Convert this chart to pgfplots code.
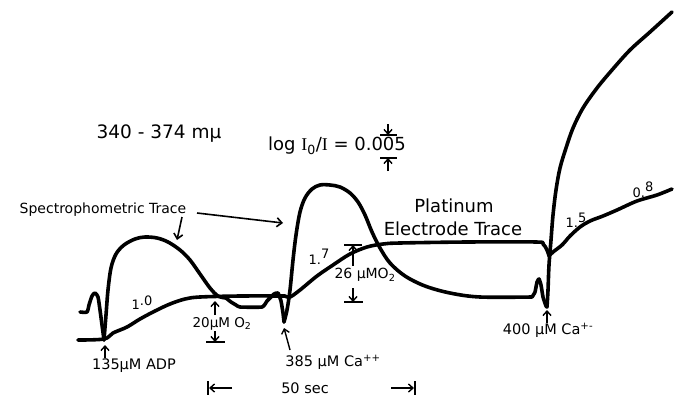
\documentclass[border=0pt]{standalone}
\usepackage{pgfplots}
\pgfplotsset{compat=1.18}
\usepackage{fontspec}
\setmainfont{DejaVu Sans}
\newfontfamily\seriffont{Liberation Serif}
\usetikzlibrary{arrows.meta}
\tikzset{
 trace/.style={black,line width=3.6pt,line join=round,line cap=round,smooth,tension=0.55,mark=none},
 ar/.style={line width=1.4pt,-{Straight Barb[length=4.5pt,width=8pt]}},
 br/.style={line width=1.4pt},
}
\begin{document}
\begin{tikzpicture}
\begin{axis}[
 width=684pt,height=399pt,scale only axis,
 xmin=0,xmax=684,ymin=0,ymax=399,y dir=reverse,
 hide axis, clip=false,
]
% Electrode trace
\addplot[trace] coordinates {(78,340)(104,339)(113,333)(127,327)(140,319)(155,311)(170,304)(185,299)(200,297)(240,296)(285,296)};
\addplot[trace] coordinates {(285,296)(290,297)(300,290)(317,276)(333,265)(350,254)(367,247)(383,244)(400,243)(467,242)(536,242)(543,244)(547,250)(549,256)};
\addplot[trace] coordinates {(549,256)(553,252)(562,245)(570,236)(580,227)(590,221)(603,216)(617,210)(637,201)(657,195)(672,189)};
% Spectrophotometric trace
\addplot[trace,tension=0.4] coordinates {(80,312)(87,312)(89,305)(92,296)(95,293)(98,297)(100,310)(102,325)(104,340)};
\addplot[trace] coordinates {(104,340)(106,315)(108,290)(111,268)(116,254)(124,245)(135,239)(145,237)(157,238)(168,242)(180,250)(190,260)(200,274)(210,288)(218,296)(226,298)};
\addplot[trace,tension=0.3] coordinates {(226,298)(231,302)(236,305)(240,307)(262,307)(267,301)(271,297)(274,294)(278,293)(281,301)(283,313)(284,322)};
\addplot[trace] coordinates {(284,322)(287,310)(290,290)(293,260)(296,235)(300,212)(305,198)(312,189)(320,185)(330,185)(340,187)(350,193)(358,202)(365,215)(372,232)(380,248)(390,263)(405,276)(425,286)(450,293)(480,297)(532,297)};
\addplot[trace,tension=0.3] coordinates {(532,297)(535,292)(537,282)(539,279)(541,285)(543,297)(546,306)(547,307)};
\addplot[trace] coordinates {(547,307)(548,290)(549,265)(551,240)(553,215)(556,190)(560,168)(566,148)(573,128)(583,108)(597,88)(612,70)(630,50)(650,32)(672,12)};

% Texts
\node[font=\fontsize{18.5}{20}\selectfont] at (axis cs:159,134) {340 - 374 mμ};
\node[font=\fontsize{18}{20}\selectfont] at (axis cs:337,146) {log {\seriffont I}\textsubscript{0}/{\seriffont I} = 0.005};
\draw[ar] (axis cs:388,124) -- (axis cs:388,135);
\draw[br] (axis cs:380,135) -- (axis cs:397,135);
\draw[ar] (axis cs:388,171) -- (axis cs:388,158);
\draw[br] (axis cs:380,158) -- (axis cs:397,158);

\node[font=\fontsize{14}{16}\selectfont] at (axis cs:103,210) {Spectrophometric Trace};
\draw[line width=1.6pt,-{Straight Barb[length=5pt,width=9pt]}] (axis cs:197,213) -- (axis cs:283,223);
\draw[line width=1.6pt,-{Straight Barb[length=5pt,width=9pt]}] (axis cs:182,217) -- (axis cs:177,240);

\node[font=\fontsize{18}{20}\selectfont] at (axis cs:454,206) {Platinum};
\node[font=\fontsize{18}{20}\selectfont] at (axis cs:453,229) {Electrode Trace};

\node[font=\fontsize{13}{15}\selectfont] at (axis cs:142,303) {1\raisebox{0.3em}{.0}};
\node[font=\fontsize{13}{15}\selectfont] at (axis cs:319,257) {1.\raisebox{0.45em}{7}};
\node[font=\fontsize{13}{15}\selectfont] at (axis cs:576,220) {1.\raisebox{0.4em}{5}};
\node[font=\fontsize{13}{15}\selectfont] at (axis cs:643,190) {0.\raisebox{0.45em}{8}};

\node[font=\fontsize{14.5}{16}\selectfont] at (axis cs:134,366) {135μM ADP};
\draw[ar] (axis cs:105,358) -- (axis cs:105,345);

\node[font=\fontsize{13.5}{15}\selectfont] at (axis cs:222,324) {20μM O\textsubscript{2}};
\draw[ar] (axis cs:215,315) -- (axis cs:215,301);
\draw[ar] (axis cs:215,331) -- (axis cs:215,342);
\draw[br] (axis cs:206,342) -- (axis cs:225,342);

\node[font=\fontsize{14.5}{16}\selectfont] at (axis cs:333,362) {385 μM Ca\textsuperscript{++}};
\draw[ar] (axis cs:290,350) -- (axis cs:284,328);

\node[font=\fontsize{14}{16}\selectfont] at (axis cs:365,275) {26 μMO\textsubscript{2}};
\draw[ar] (axis cs:353,266) -- (axis cs:353,245);
\draw[br] (axis cs:344,245) -- (axis cs:362,245);
\draw[ar] (axis cs:353,288) -- (axis cs:353,302);
\draw[br] (axis cs:344,302) -- (axis cs:363,302);

\node[font=\fontsize{14.5}{16}\selectfont] at (axis cs:548,330) {400 μM Ca\textsuperscript{+-}};
\draw[ar] (axis cs:547,323) -- (axis cs:547,310);

\node[font=\fontsize{14.5}{16}\selectfont] at (axis cs:305,388) {50 sec};
\draw[ar] (axis cs:232,388) -- (axis cs:209,388);
\draw[line width=1.8pt] (axis cs:208,381) -- (axis cs:208,395);
\draw[ar] (axis cs:391,388) -- (axis cs:414,388);
\draw[line width=1.8pt] (axis cs:415,381) -- (axis cs:415,395);

\coordinate (BL) at (rel axis cs:0,0);
\coordinate (TR) at (rel axis cs:1,1);
\end{axis}
\pgfresetboundingbox
\path (BL) rectangle (TR);
\end{tikzpicture}
\end{document}
